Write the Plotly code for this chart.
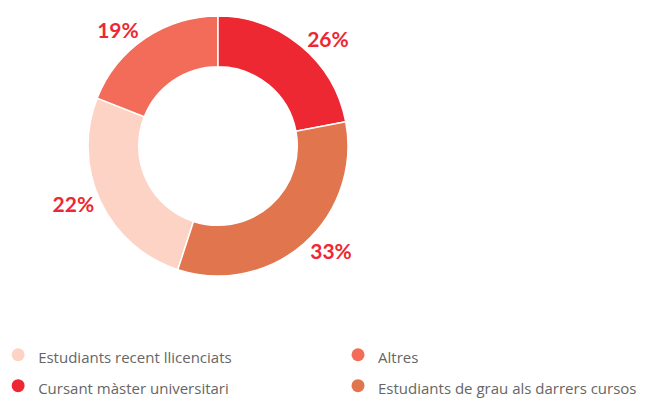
import plotly.graph_objects as go

# slices, in legend order (clockwise around the ring)
labels = [
    "Estudiants recent llicenciats",
    "Altres",
    "Cursant màster universitari",
    "Estudiants de grau als darrers cursos",
]
# slice sizes as drawn in the source chart
values = [26, 19, 22, 33]
# percentages as printed next to each slice in the source chart
printed_pct = ["22%", "19%", "26%", "33%"]
colors = ["#FDD3C5", "#F26C59", "#EE2832", "#E0754E"]
# legend column for each entry (two columns, filled row by row)
legend_cols = ["legend", "legend2", "legend", "legend2"]

# ring starts so that "Cursant màster" begins at 12 o'clock
rotation = -360 * sum(values[:2]) / sum(values)

fig = go.Figure()

fig.add_trace(
    go.Pie(
        labels=labels,
        values=values,
        text=printed_pct,
        sort=False,
        direction="clockwise",
        rotation=rotation,
        hole=0.61,
        marker=dict(colors=colors, line=dict(color="#FFFFFF", width=1.5)),
        texttemplate="%{text}",
        textposition="outside",
        textfont=dict(family="Lato", size=21, color="#EE2832", weight="bold"),
        domain=dict(x=[0.1233, 0.5239], y=[0.3333, 0.9801]),
        showlegend=False,
        hovertemplate="%{label}: %{text}<extra></extra>",
    )
)

# legend entries with round markers
for name, color, leg in zip(labels, colors, legend_cols):
    fig.add_trace(
        go.Scatter(
            x=[None],
            y=[None],
            mode="markers",
            name=f'<span style="font-size:15px">{name}</span>',
            marker=dict(color=color, size=13),
            legend=leg,
        )
    )

legend_style = dict(
    orientation="v",
    xanchor="left",
    y=0.1884,
    yanchor="top",
    itemwidth=30,
    font=dict(family="Open Sans", size=21.5, color="#666666"),
    traceorder="normal",
    bgcolor="rgba(0,0,0,0)",
)

fig.update_layout(
    width=649,
    height=402,
    margin=dict(l=0, r=0, t=0, b=0, autoexpand=False),
    paper_bgcolor="white",
    plot_bgcolor="white",
    xaxis=dict(visible=False),
    yaxis=dict(visible=False),
    legend=dict(x=-0.0152, **legend_style),
    legend2=dict(x=0.5085, **legend_style),
)

fig.write_html("out.html")
